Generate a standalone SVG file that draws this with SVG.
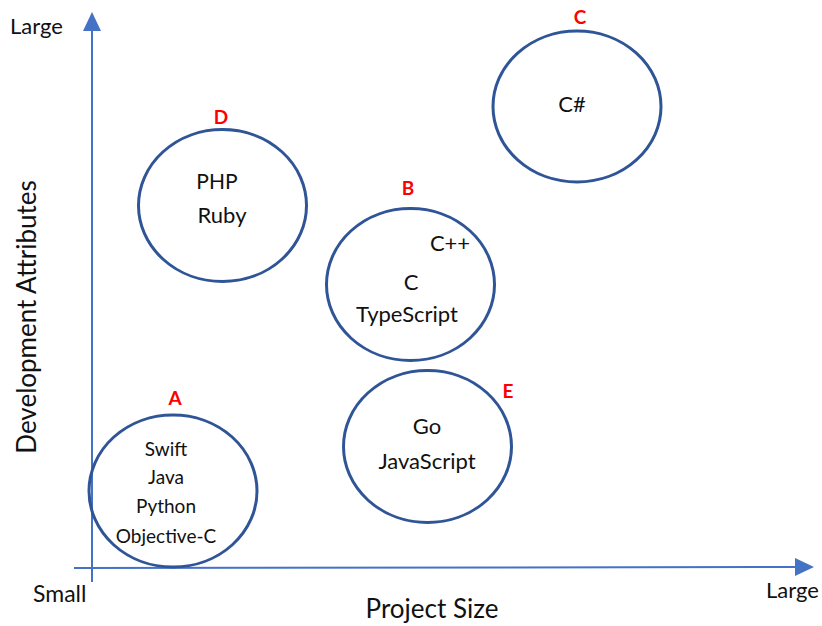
<svg xmlns="http://www.w3.org/2000/svg" width="822" height="626" viewBox="0 0 822 626">
  <defs>
    <style>
      .axis { stroke: #4472C4; stroke-width: 2; fill: none; }
      .head { fill: #4472C4; }
      .bubble { fill: none; stroke: #2F5597; stroke-width: 3; }
      .txt { font-family: Lato, "Liberation Sans", sans-serif; fill: #111111; text-anchor: middle; }
      .tag { font-family: Lato, "Liberation Sans", sans-serif; font-weight: bold; fill: #FF0000; font-size: 19px; text-anchor: middle; }
      .axtxt { font-family: Lato, "Liberation Sans", sans-serif; fill: #111111; font-size: 22px; }
      .title { font-family: Lato, "Liberation Sans", sans-serif; fill: #111111; font-size: 26px; text-anchor: middle; }
    </style>
  </defs>
  <rect width="822" height="626" fill="#FFFFFF"/>

  <!-- axes -->
  <g id="connectors">
    <line class="axis" x1="92" y1="582" x2="92" y2="14"/>
    <path class="head" d="M92,12 L101,31 L83,31 Z"/>
    <line class="axis" x1="74" y1="568" x2="797" y2="567"/>
    <path class="head" d="M814,567 L795,558 L795,576 Z"/>
  </g>

  <!-- axis labels -->
  <g id="axis-labels">
    <text class="axtxt" x="10" y="34">Large</text>
    <text class="axtxt" x="33" y="602" style="font-size:23px">Small</text>
    <text class="axtxt" x="766" y="598">Large</text>
    <text class="title" x="432" y="618">Project Size</text>
    <text class="title" x="0" y="0" transform="translate(36,317) rotate(-90)">Development Attributes</text>
  </g>

  <!-- A -->
  <g id="node-a">
    <ellipse class="bubble" cx="173" cy="491" rx="84" ry="76"/>
    <text class="tag" x="175" y="405">A</text>
    <text class="txt" font-size="19" x="166" y="456">Swift</text>
    <text class="txt" font-size="19" x="166" y="484">Java</text>
    <text class="txt" font-size="19" x="166" y="513">Python</text>
    <text class="txt" font-size="19" x="166" y="543">Objective-C</text>
  </g>

  <!-- B -->
  <g id="node-b">
    <ellipse class="bubble" cx="410.5" cy="284.5" rx="84" ry="76"/>
    <text class="tag" x="408" y="195">B</text>
    <text class="txt" font-size="22" x="450" y="251">C++</text>
    <text class="txt" font-size="22" x="411" y="290">C</text>
    <text class="txt" font-size="22" x="407" y="322">TypeScript</text>
  </g>

  <!-- C -->
  <g id="node-c">
    <ellipse class="bubble" cx="577" cy="106.5" rx="84" ry="75.5"/>
    <text class="tag" x="580" y="24">C</text>
    <text class="txt" font-size="22" x="572" y="112">C#</text>
  </g>

  <!-- D -->
  <g id="node-d">
    <ellipse class="bubble" cx="222.5" cy="205.5" rx="84" ry="76"/>
    <text class="tag" x="221" y="124">D</text>
    <text class="txt" font-size="21" x="217" y="189">PHP</text>
    <text class="txt" font-size="22" x="222" y="223">Ruby</text>
  </g>

  <!-- E -->
  <g id="node-e">
    <ellipse class="bubble" cx="427.5" cy="446.5" rx="84" ry="76"/>
    <text class="tag" x="508" y="398">E</text>
    <text class="txt" font-size="22" x="427" y="434">Go</text>
    <text class="txt" font-size="22" x="427" y="469">JavaScript</text>
  </g>
</svg>
